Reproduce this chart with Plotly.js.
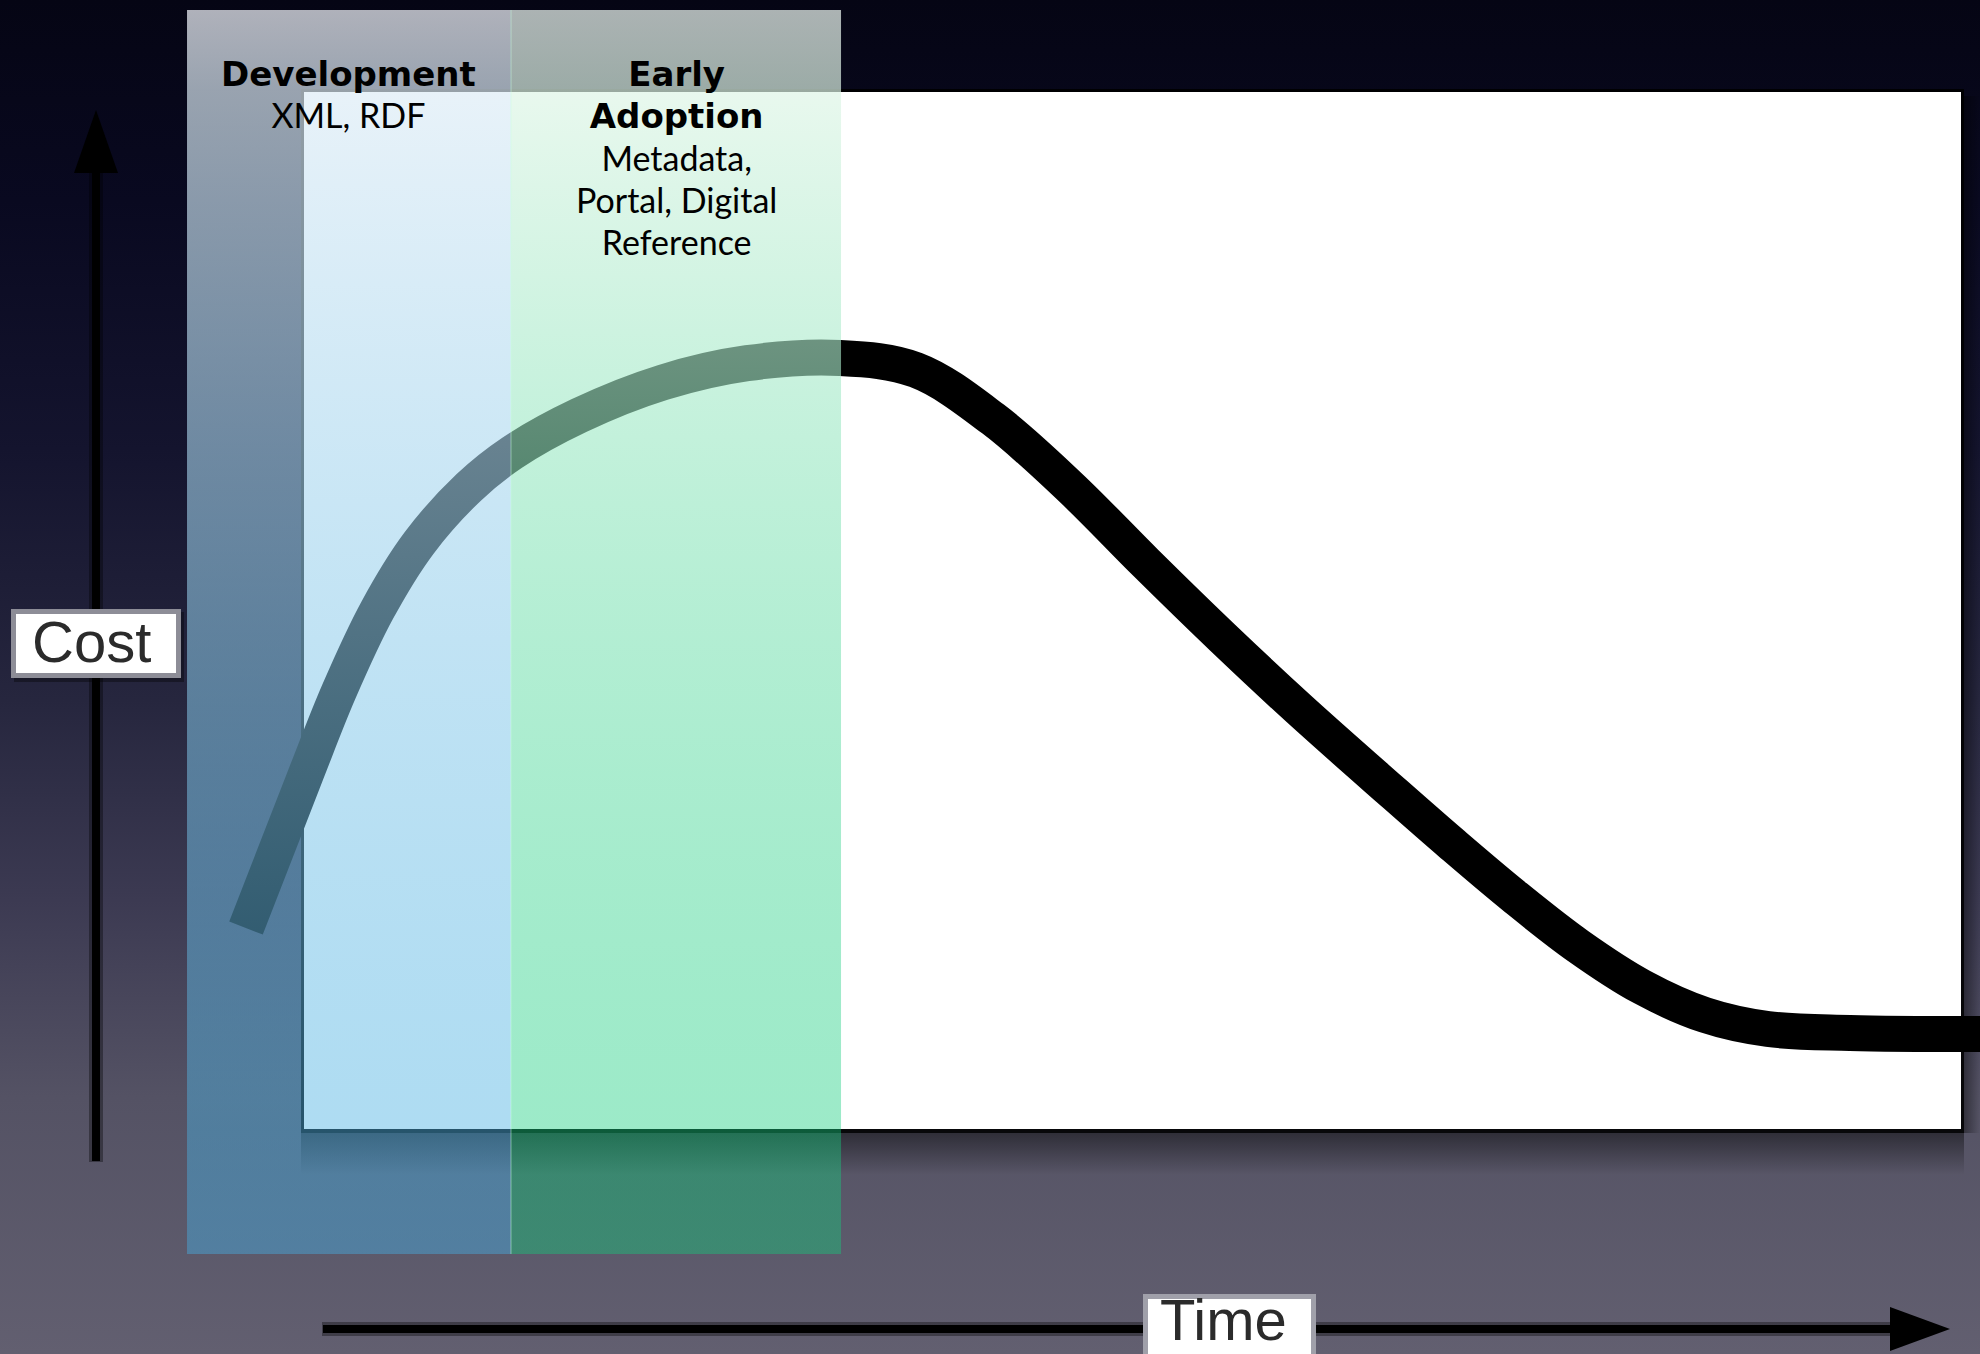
<!DOCTYPE html>
<html><head><meta charset="utf-8">
<script src="https://cdn.plot.ly/plotly-3.0.1.min.js"></script>
<style>html,body{margin:0;padding:0;background:#05051a;overflow:hidden}#chart{width:1980px;height:1354px}svg text{font-variant-ligatures:none;font-feature-settings:"liga" 0,"dlig" 0}</style>
</head><body><div id="chart"></div>
<script>
// ---------------- DATA ----------------
// Time (0..100 across the white frame) and Cost (0..100 up the white frame)
const timeVals = [-3.50, 0.06, 2.11, 4.41, 6.94, 9.96, 12.55, 16.60, 21.67, 26.74, 32.35, 36.93, 41.58, 46.23, 50.81, 55.46, 60.05, 65.48, 69.28, 73.08, 76.89, 80.75, 84.55, 88.35, 93.30, 101.15];
const costVals = [19.38, 34.00, 42.20, 50.00, 56.50, 61.90, 65.20, 68.80, 72.00, 73.85, 74.35, 73.19, 68.47, 61.91, 54.58, 47.35, 40.50, 32.79, 27.48, 22.37, 17.65, 13.69, 10.99, 9.64, 9.26, 9.16];
const phaseHeads = [['Development'], ['Early', 'Adoption']];
const phaseItems = [['XML, RDF'], ['Metadata,', 'Portal, Digital', 'Reference']];
const phaseStart = [-7.06, 12.49];
const phaseEnd = [12.49, 32.41];
const yLabel = 'Cost';
const xLabel = 'Time';

// ---------------- GEOMETRY / STYLE ----------------
const W = 1980, H = 1354;
const FX0 = 304, FX1 = 1961, FY0 = 92, FY1 = 1129; // white frame in page pixels
const sx = (FX1 - FX0) / 100, sy = (FY1 - FY0) / 100;
const X = px => (px - FX0) / sx;
const Y = py => (FY1 - py) / sy;
const PX = px => px / W;
const PY = py => 1 - py / H;

function rect(x0, x1, y0, y1, extra) {
  return Object.assign({
    type: 'scatter', mode: 'lines',
    x: [x0, x1, x1, x0, x0], y: [y0, y0, y1, y1, y0],
    fill: 'toself', line: {width: 0, color: 'rgba(0,0,0,0)'},
    hoverinfo: 'skip', showlegend: false
  }, extra);
}

const traces = [];
// page background gradient (0 = bottom)
traces.push(rect(X(0), X(W), Y(H), Y(0), {
  fillgradient: {type: 'vertical', colorscale: [
    [0, 'rgb(98,95,112)'], [0.19, 'rgb(84,82,100)'], [0.335, 'rgb(60,58,82)'],
    [0.483, 'rgb(38,38,62)'], [0.668, 'rgb(20,20,46)'], [0.852, 'rgb(9,9,32)'], [1, 'rgb(5,5,20)']
  ]}
}));
// frame shadows
traces.push(rect(X(301), X(1964), Y(1133), Y(89), {fillcolor: 'rgba(0,0,0,0.9)'}));
traces.push(rect(X(301), X(1964), Y(1175), Y(1133), {
  fillgradient: {type: 'vertical', colorscale: [[0, 'rgba(0,0,0,0)'], [1, 'rgba(0,0,0,0.45)']]}
}));
traces.push(rect(X(1964), X(1980), Y(1133), Y(96), {
  fillgradient: {type: 'horizontal', colorscale: [[0, 'rgba(0,0,0,0.4)'], [1, 'rgba(0,0,0,0)']]}
}));
// white frame
traces.push(rect(0, 100, 0, 100, {fillcolor: '#ffffff'}));
// the cost curve
traces.push({
  type: 'scatter', mode: 'lines', x: timeVals, y: costVals,
  line: {color: '#000000', width: 36, shape: 'spline', smoothing: 1},
  hoverinfo: 'skip', showlegend: false
});
// phase bands
const bandScales = [
  [[0, 'rgba(70,170,222,0.46)'], [0.1, 'rgba(75,177,226,0.45)'], [0.934, 'rgba(221,236,246,0.68)'], [1, 'rgba(235,238,245,0.74)']],
  [[0, 'rgba(20,200,122,0.43)'], [0.1, 'rgba(20,205,125,0.42)'], [0.934, 'rgba(222,245,230,0.69)'], [1, 'rgba(230,240,235,0.74)']]
];
for (let i = 0; i < phaseStart.length; i++) {
  traces.push(rect(phaseStart[i], phaseEnd[i], Y(1254), Y(10), {
    fillgradient: {type: 'vertical', colorscale: bandScales[i]}
  }));
}

const shapes = [];
// band divider
shapes.push({type: 'line', xref: 'x', yref: 'paper', x0: phaseEnd[0], x1: phaseEnd[0], y0: PY(1254), y1: PY(10),
  line: {color: 'rgba(200,255,225,0.35)', width: 1.5}, layer: 'above'});
// axis arrows (soft shadow + line + head)
shapes.push({type: 'line', xref: 'paper', yref: 'paper', x0: PX(96), x1: PX(96), y0: PY(1162), y1: PY(170), line: {color: 'rgba(0,0,0,0.35)', width: 14}});
shapes.push({type: 'line', xref: 'paper', yref: 'paper', x0: PX(96), x1: PX(96), y0: PY(1161), y1: PY(170), line: {color: '#000', width: 8}});
shapes.push({type: 'path', xref: 'paper', yref: 'paper',
  path: `M ${PX(96)} ${PY(110)} L ${PX(118)} ${PY(173)} L ${PX(74)} ${PY(173)} Z`, fillcolor: '#000', line: {width: 0}});
shapes.push({type: 'line', xref: 'paper', yref: 'paper', x0: PX(322), x1: PX(1892), y0: PY(1329), y1: PY(1329), line: {color: 'rgba(0,0,0,0.35)', width: 14}});
shapes.push({type: 'line', xref: 'paper', yref: 'paper', x0: PX(323), x1: PX(1892), y0: PY(1329), y1: PY(1329), line: {color: '#000', width: 8}});
shapes.push({type: 'path', xref: 'paper', yref: 'paper',
  path: `M ${PX(1950)} ${PY(1329)} L ${PX(1890)} ${PY(1307)} L ${PX(1890)} ${PY(1351)} Z`, fillcolor: '#000', line: {width: 0}});
// label boxes
shapes.push({type: 'rect', xref: 'paper', yref: 'paper', x0: PX(14), x1: PX(184), y0: PY(612), y1: PY(682), fillcolor: 'rgba(0,0,0,0.35)', line: {width: 0}});
shapes.push({type: 'rect', xref: 'paper', yref: 'paper', x0: PX(13.5), x1: PX(178.5), y0: PY(611.5), y1: PY(675.5), fillcolor: '#ffffff', line: {color: '#8d8d97', width: 5}});
shapes.push({type: 'rect', xref: 'paper', yref: 'paper', x0: PX(1145.5), x1: PX(1313.5), y0: PY(1296.5), y1: PY(1362), fillcolor: '#ffffff', line: {color: '#a0a0aa', width: 5}});

const annotations = [];
annotations.push({xref: 'paper', yref: 'paper', x: PX(91), y: PY(641), text: yLabel, showarrow: false,
  xanchor: 'center', yanchor: 'middle', font: {family: 'Liberation Sans, Arial, sans-serif', size: 58, color: '#2b2b2b'}});
annotations.push({xref: 'paper', yref: 'paper', x: PX(1223), y: PY(1354), text: xLabel, showarrow: false,
  xanchor: 'center', yanchor: 'bottom', font: {family: 'Liberation Sans, Arial, sans-serif', size: 58, color: '#2b2b2b'}});
// phase labels: one text block per phase, bold heads + regular items
for (let i = 0; i < phaseStart.length; i++) {
  const cx = (phaseStart[i] + phaseEnd[i]) / 2;
  const heads = phaseHeads[i].map(t => `<span style="font-family:'DejaVu Sans',sans-serif;font-size:34px;font-weight:bold">${t}</span>`);
  const items = phaseItems[i].map(t => `<span style="font-size:34px">${t}</span>`);
  annotations.push({xref: 'x', yref: 'paper', x: cx, y: PY(52), text: heads.concat(items).join('<br>'),
    showarrow: false, xanchor: 'center', yanchor: 'top', align: 'center',
    font: {family: 'Lato, sans-serif', size: 32.5, color: '#000'}});
}

const layout = {
  width: W, height: H,
  margin: {l: 0, r: 0, t: 0, b: 0, pad: 0},
  paper_bgcolor: '#05051a', plot_bgcolor: 'rgba(0,0,0,0)',
  xaxis: {range: [X(0), X(W)], visible: false, fixedrange: true},
  yaxis: {range: [Y(H), Y(0)], visible: false, fixedrange: true},
  showlegend: false, hovermode: false,
  shapes: shapes, annotations: annotations
};
Plotly.newPlot('chart', traces, layout, {displayModeBar: false, staticPlot: true});
</script>
</body></html>
